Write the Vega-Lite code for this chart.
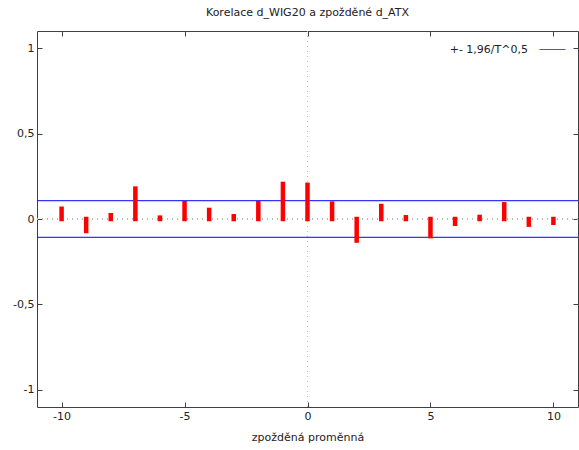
{
  "$schema": "https://vega.github.io/schema/vega-lite/v6.json",
  "width": 541,
  "height": 376,
  "autosize": {"type": "none"},
  "padding": {"left": 37, "top": 31, "right": 1, "bottom": 43},
  "background": "white",
  "title": {"text": "Korelace d_WIG20 a zpožděné d_ATX", "font": "DejaVu Sans", "fontSize": 11, "fontWeight": "normal", "color": "#222222", "offset": 13},
  "config": {
    "view": {"stroke": "#404040", "strokeWidth": 1},
    "axis": {"domain": false, "grid": false, "tickSize": -5, "tickColor": "#404040", "labelFont": "DejaVu Sans", "labelFontSize": 11, "labelColor": "#222222", "titleFont": "DejaVu Sans", "titleFontSize": 11, "titleFontWeight": "normal", "titleColor": "#222222"}
  },
  "datasets": {
    "corr": [
      {"lag": -10, "r": 0.06}, {"lag": -9, "r": -0.07}, {"lag": -8, "r": 0.022}, {"lag": -7, "r": 0.178},
      {"lag": -6, "r": 0.008}, {"lag": -5, "r": 0.092}, {"lag": -4, "r": 0.053}, {"lag": -3, "r": 0.016},
      {"lag": -2, "r": 0.092}, {"lag": -1, "r": 0.205}, {"lag": 0, "r": 0.2}, {"lag": 1, "r": 0.09},
      {"lag": 2, "r": -0.126}, {"lag": 3, "r": 0.076}, {"lag": 4, "r": 0.01}, {"lag": 5, "r": -0.1},
      {"lag": 6, "r": -0.028}, {"lag": 7, "r": 0.012}, {"lag": 8, "r": 0.086}, {"lag": 9, "r": -0.033},
      {"lag": 10, "r": -0.022}
    ],
    "bounds": [
      {"series": "+- 1,96/T^0,5", "b": 0.107},
      {"series": "+- 1,96/T^0,5", "b": -0.107}
    ]
  },
  "resolve": {"axis": {"x": "independent", "y": "independent"}},
  "layer": [
    {
      "data": {"name": "corr"},
      "mark": {"type": "rule", "color": "#b8b8b8", "strokeWidth": 1, "strokeDash": [1, 4]},
      "encoding": {
        "y": {"datum": 0, "type": "quantitative", "scale": {"domain": [-1.1, 1.1], "nice": false, "zero": false}, "axis": null}
      }
    },
    {
      "data": {"name": "corr"},
      "mark": {"type": "rule", "color": "#b8b8b8", "strokeWidth": 1, "strokeDash": [1, 4]},
      "encoding": {
        "x": {"datum": 0, "type": "quantitative", "scale": {"domain": [-11, 11], "nice": false, "zero": false}, "axis": null}
      }
    },
    {
      "data": {"name": "bounds"},
      "mark": {"type": "rule", "strokeWidth": 1},
      "encoding": {
        "y": {"field": "b", "type": "quantitative", "scale": {"domain": [-1.1, 1.1], "nice": false, "zero": false}, "axis": null},
        "stroke": {"field": "series", "type": "nominal", "scale": {"range": ["#0000ff"]},
          "legend": {"title": null, "orient": "none", "legendX": 502, "legendY": 5, "padding": 0, "symbolType": "stroke", "symbolSize": 676, "symbolStrokeWidth": 1, "symbolOpacity": 0.7, "labelAlign": "right", "labelOffset": -38, "labelFont": "DejaVu Sans", "labelFontSize": 11, "labelColor": "#222222"}}
      }
    },
    {
      "data": {"name": "corr"},
      "mark": {"type": "rule", "color": "#ff0000", "strokeWidth": 4.5, "strokeCap": "square"},
      "encoding": {
        "x": {"field": "lag", "type": "quantitative", "scale": {"domain": [-11, 11], "nice": false, "zero": false},
          "axis": {"orient": "bottom", "values": [-10, -5, 0, 5, 10], "labelExpr": "datum.value + ''", "labelPadding": 8, "title": "zpožděná proměnná", "titlePadding": 10}},
        "y": {"field": "r", "type": "quantitative", "scale": {"domain": [-1.1, 1.1], "nice": false, "zero": false},
          "axis": {"orient": "left", "values": [-1, -0.5, 0, 0.5, 1], "labelExpr": "replace(datum.value + '', '.', ',')", "labelPadding": 8, "title": null}},
        "y2": {"datum": 0}
      }
    },
    {
      "data": {"name": "corr"},
      "mark": {"type": "point", "opacity": 0},
      "encoding": {
        "x": {"field": "lag", "type": "quantitative", "scale": {"domain": [-11, 11], "nice": false, "zero": false},
          "axis": {"orient": "top", "values": [-10, -5, 0, 5, 10], "labels": false, "title": null}},
        "y": {"field": "r", "type": "quantitative", "scale": {"domain": [-1.1, 1.1], "nice": false, "zero": false},
          "axis": {"orient": "right", "values": [-1, -0.5, 0, 0.5, 1], "labels": false, "title": null}}
      }
    }
  ]
}
